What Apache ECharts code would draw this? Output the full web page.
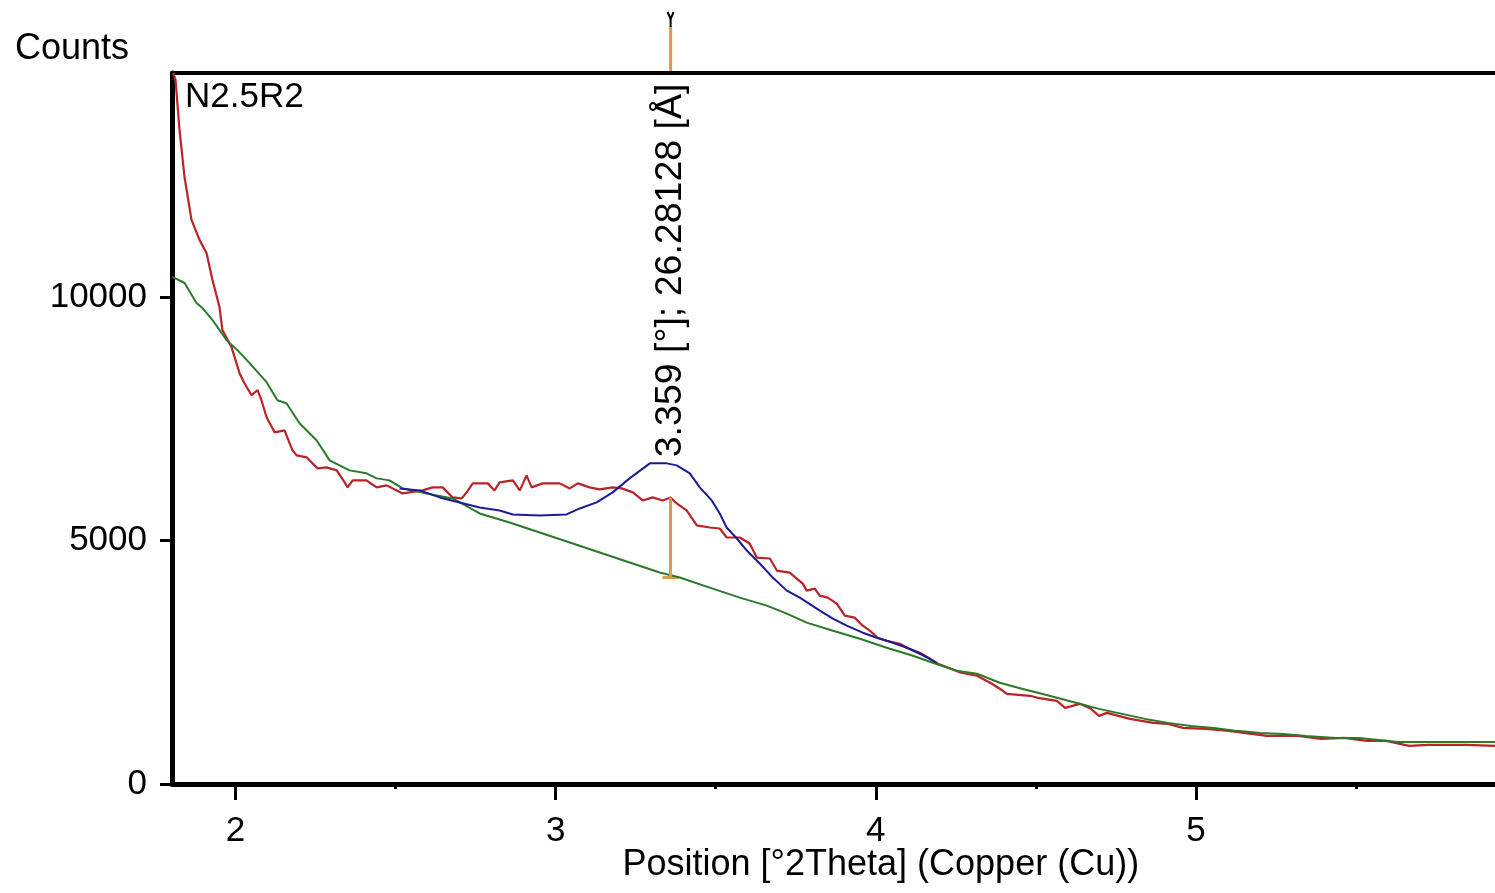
<!DOCTYPE html>
<html><head><meta charset="utf-8">
<script src="https://cdn.jsdelivr.net/npm/echarts@6/dist/echarts.min.js"></script>
<style>html,body{margin:0;padding:0;background:#fff}#c{width:1495px;height:893px}</style>
</head><body><div id="c"></div>
<script>
// ---- data ----
const observedX = [1.805,1.8125,1.825,1.8406,1.8625,1.8875,1.9094,1.928,1.95,1.959,1.9875,2.0125,2.028,2.05,2.069,2.081,2.097,2.122,2.153,2.178,2.191,2.222,2.256,2.284,2.316,2.341,2.35,2.366,2.409,2.441,2.472,2.522,2.584,2.616,2.647,2.678,2.706,2.722,2.741,2.788,2.809,2.825,2.866,2.888,2.909,2.925,2.959,3.0125,3.044,3.069,3.106,3.1375,3.178,3.206,3.241,3.272,3.303,3.334,3.359,3.378,3.409,3.441,3.481,3.5125,3.534,3.575,3.606,3.628,3.669,3.691,3.731,3.753,3.772,3.784,3.809,3.825,3.85,3.878,3.903,3.934,3.959,3.981,4.006,4.034,4.075,4.097,4.1375,4.194,4.266,4.316,4.3625,4.397,4.409,4.481,4.506,4.566,4.591,4.6375,4.672,4.697,4.722,4.794,4.866,4.9125,4.959,5.031,5.103,5.15,5.222,5.319,5.391,5.4625,5.534,5.594,5.666,5.725,5.844,5.934];
const observedY = [14600,14465,13436,12469,11584,11173,10905,10350,9794,9321,8971,8436,8230,7984,8086,7881,7531,7222,7263,6852,6749,6708,6481,6502,6440,6193,6091,6235,6235,6091,6132,5967,6029,6091,6091,5885,5864,5988,6173,6173,6029,6193,6235,6029,6337,6091,6173,6173,6070,6173,6091,6049,6091,6070,5988,5823,5885,5823,5885,5761,5617,5309,5267,5247,5062,5062,4938,4650,4630,4383,4342,4218,4115,3971,4012,3868,3827,3704,3457,3416,3251,3148,3004,2942,2881,2798,2695,2469,2284,2222,2058,1914,1852,1811,1770,1708,1564,1646,1543,1399,1461,1337,1255,1235,1152,1132,1091,1049,988,988,926,947,885,885,782,802,802,782];

const backgroundX = [1.803,1.841,1.878,1.897,1.928,1.972,2.006,2.044,2.097,2.131,2.159,2.2,2.253,2.294,2.356,2.409,2.441,2.481,2.522,2.553,2.597,2.678,2.7625,2.856,2.95,3.044,3.1375,3.231,3.325,3.3875,3.481,3.575,3.659,3.722,3.784,3.866,3.95,4.034,4.116,4.178,4.253,4.316,4.3875,4.456,4.506,4.578,4.625,4.697,4.769,4.841,4.9125,4.984,5.056,5.128,5.2,5.272,5.344,5.4375,5.509,5.631,5.934];
const backgroundY = [10412,10288,9877,9774,9527,9115,8909,8642,8251,7881,7819,7407,7058,6646,6440,6379,6276,6235,6070,6029,5967,5864,5556,5370,5165,4959,4753,4547,4342,4239,4033,3827,3663,3498,3313,3148,2984,2798,2634,2490,2325,2263,2078,1955,1872,1749,1667,1543,1440,1337,1255,1193,1152,1091,1049,1029,988,947,947,864,864];

const profileX = [2.5125,2.575,2.6375,2.7,2.7625,2.825,2.866,2.95,3.034,3.075,3.128,3.178,3.231,3.294,3.347,3.378,3.419,3.45,3.4875,3.5125,3.534,3.566,3.597,3.6375,3.678,3.722,3.7625,3.825,3.866,3.909,3.959,4.003,4.053,4.097,4.1375,4.169,4.19];
const profileY = [6070,6029,5885,5782,5679,5617,5535,5514,5535,5658,5782,5988,6276,6584,6584,6543,6379,6091,5823,5556,5267,5041,4794,4527,4239,3971,3827,3560,3395,3251,3107,3004,2901,2798,2675,2572,2490];

const peakPos = 3.359;
const peakLabel = '3.359 [°]; 26.28128 [Å]';
const peakTopCounts = 6710;     // where the rotated label starts (just above profile peak)
const peakObs = 5885;           // observed counts at peak position
const peakBg = 4239;            // background counts at peak position

const xMin = 1.8016, xMax = 5.934;
const yMin = 0, yMax = 14600;
const xMajor = [2,3,4,5];
const xMinor = [2.5,3.5,4.5,5.5];
const yTicks = [0,5000,10000];
const sampleName = 'N2.5R2';
const yTitle = 'Counts';
const xTitle = 'Position [°2Theta] (Copper (Cu))';

const zip = (a,b) => a.map((v,i)=>[v,b[i]]);
const FONT = "'Liberation Sans', Arial, sans-serif";

const chart = echarts.init(document.getElementById('c'), null, {renderer:'canvas'});
chart.setOption({
  animation:false,
  backgroundColor:'#fff',
  grid:{left:172, right:0, top:73, bottom:109, containLabel:false},
  xAxis:[
    {type:'value', min:xMin, max:xMax, position:'bottom',
     axisLine:{show:true, lineStyle:{color:'#000', width:5}},
     axisTick:{show:true, customValues:xMajor, length:16, lineStyle:{color:'#000', width:3}},
     axisLabel:{show:true, customValues:xMajor, fontSize:35, color:'#000', margin:30, fontFamily:FONT,
                formatter:v=>String(v)},
     splitLine:{show:false}},
    {type:'value', min:xMin, max:xMax, position:'bottom',
     axisLine:{show:false},
     axisTick:{show:true, customValues:xMinor, length:5, lineStyle:{color:'#000', width:3}},
     axisLabel:{show:false}, splitLine:{show:false}},
    {type:'value', min:xMin, max:xMax, position:'top',
     axisLine:{show:true, lineStyle:{color:'#000', width:4}},
     axisTick:{show:false}, axisLabel:{show:false}, splitLine:{show:false}}
  ],
  yAxis:{type:'value', min:yMin, max:yMax,
     axisLine:{show:true, lineStyle:{color:'#000', width:5}},
     axisTick:{show:true, customValues:yTicks, length:12, lineStyle:{color:'#000', width:3}},
     axisLabel:{show:true, customValues:yTicks, fontSize:35, color:'#000', margin:25, fontFamily:FONT,
                formatter:v=>String(v)},
     splitLine:{show:false}},
  series:[
    {type:'line', name:'observed', data:zip(observedX,observedY), showSymbol:false,
     lineStyle:{color:'#bb2326', width:2.2}, z:2},
    {type:'line', name:'background', data:zip(backgroundX,backgroundY), showSymbol:false,
     lineStyle:{color:'#2a7a2a', width:2}, z:3},
    {type:'line', name:'profile', data:zip(profileX,profileY), showSymbol:false,
     lineStyle:{color:'#1b1b96', width:2}, z:4,
     markLine:{silent:true, symbol:'none', label:{show:false},
       lineStyle:{color:'#dc9a4a', width:3, type:'solid'},
       data:[[{coord:[peakPos,peakObs]},{coord:[peakPos,peakBg]}]]}}
  ]
});

const px = (x,y) => chart.convertToPixel({xAxisIndex:0, yAxisIndex:0}, [x,y]);
const pTop = px(peakPos, yMax);
const pBg = px(peakPos, peakBg);
const pLab = px(peakPos, peakTopCounts);
const origin = px(xMin, yMax);
const xMid = px(4.0, 0);

chart.setOption({
  graphic:[
    {type:'text', left:15, top:31, style:{text:yTitle, font:'36px '+FONT, fill:'#000'}},
    {type:'text', x:origin[0]+13, y:origin[1]+24, style:{text:sampleName, font:'35px '+FONT, fill:'#000', textVerticalAlign:'middle'}},
    {type:'text', x:xMid[0]+5, y:865, style:{text:xTitle, font:'36px '+FONT, fill:'#000', textAlign:'center', textVerticalAlign:'middle'}},
    {type:'text', x:pLab[0], y:pLab[1], rotation:Math.PI/2,
     style:{text:peakLabel, font:'37.5px '+FONT, fill:'#000', textAlign:'left', textVerticalAlign:'middle'}},
    {type:'line', shape:{x1:pBg[0]-8, y1:pBg[1], x2:pBg[0]+8, y2:pBg[1]}, style:{stroke:'#dc9a4a', lineWidth:3}},
    {type:'line', shape:{x1:pTop[0], y1:pTop[1], x2:pTop[0], y2:pTop[1]-46}, style:{stroke:'#dc9a4a', lineWidth:3}},
    {type:'polyline', shape:{points:[[pTop[0]-3,pTop[1]-61],[pTop[0],pTop[1]-54],[pTop[0]+3,pTop[1]-61]]}, style:{stroke:'#000', lineWidth:2, fill:null}},
    {type:'line', shape:{x1:pTop[0], y1:pTop[1]-54, x2:pTop[0], y2:pTop[1]-46}, style:{stroke:'#000', lineWidth:2}}
  ]
});
</script></body></html>
